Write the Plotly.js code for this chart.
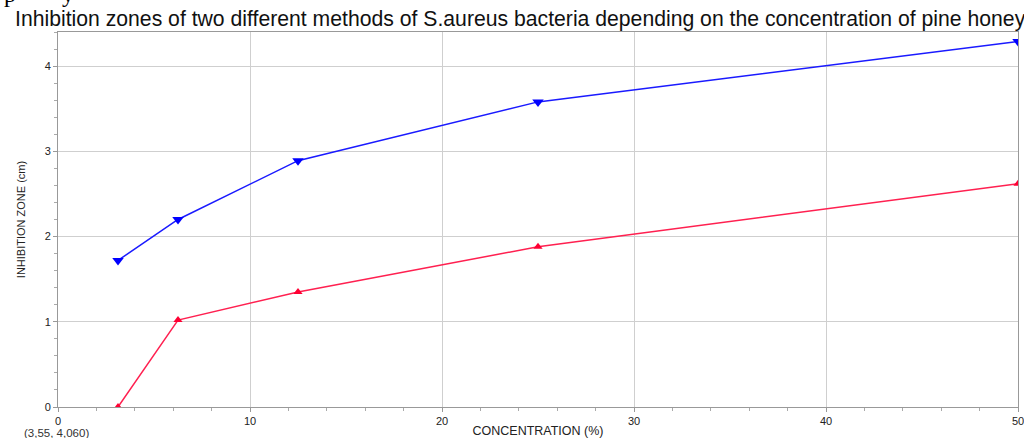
<!DOCTYPE html>
<html><head><meta charset="utf-8">
<script src="https://cdn.plot.ly/plotly-3.0.1.min.js"></script>
<style>html,body{margin:0;padding:0;background:#fff}#c{width:1024px;height:438px}</style>
</head><body><div id="c"></div>
<script>
const concentration = [3.125, 6.25, 12.5, 25, 50];
const methodA = [1.72, 2.20, 2.89, 3.58, 4.29];
const methodB = [0.00, 1.02, 1.35, 1.88, 2.62];
const xTicks = [0, 10, 20, 30, 40, 50];
const yTicks = [0, 1, 2, 3, 4];

const traces = [
  {x: concentration, y: methodA, type: 'scatter', mode: 'lines+markers', name: 'A',
   line: {color: '#1a1aff', width: 1.5}, marker: {symbol: 'triangle-down', size: 10, color: '#0000ff'}},
  {x: concentration, y: methodB, type: 'scatter', mode: 'lines+markers', name: 'B',
   line: {color: '#ff2050', width: 1.5}, marker: {symbol: 'triangle-up', size: 8, color: '#ff0033'}}
];
const layout = {
  width: 1024, height: 438, showlegend: false,
  margin: {l: 58, r: 6, t: 32, b: 31},
  paper_bgcolor: '#fff', plot_bgcolor: '#fff',
  font: {family: 'Liberation Sans, Arial, sans-serif', color: '#333'},
  title: {text: 'Inhibition zones of two different methods of S.aureus bacteria depending on the concentration of pine honey',
    x: 15/1024, xref: 'container', xanchor: 'left', y: 1 - 19/438, yref: 'container', yanchor: 'middle',
    font: {size: 21.2, color: '#111', family: 'Liberation Sans, Arial, sans-serif'}},
  xaxis: {range: [0, 50], tickvals: xTicks, ticks: 'outside', ticklen: 4, tickcolor: '#999',
    showgrid: true, gridcolor: '#cfcfcf', gridwidth: 1, zeroline: false,
    showline: true, linecolor: '#999', mirror: true, ticklabeloverflow: 'allow',
    tickfont: {size: 11, color: '#222'},
    minor: {dtick: 2, ticks: 'outside', ticklen: 3, tickcolor: '#aaa', showgrid: false},
    title: {text: 'CONCENTRATION (%)', font: {size: 12.5, color: '#222'}, standoff: 1}},
  yaxis: {range: [0, 4.4], tickvals: yTicks, ticks: 'outside', ticklen: 4, tickcolor: '#999',
    showgrid: true, gridcolor: '#cfcfcf', gridwidth: 1, zeroline: false,
    showline: true, linecolor: '#999', mirror: true,
    tickfont: {size: 11, color: '#222'},
    minor: {dtick: 0.2, ticks: 'outside', ticklen: 3, tickcolor: '#aaa', showgrid: false},
    title: {text: 'INHIBITION ZONE (cm)', font: {size: 11, color: '#222'}, standoff: 16}},
  annotations: [
    {text: '(3,55, 4,060)', xref: 'paper', yref: 'paper', x: -0.037, y: -0.068, xanchor: 'left', yanchor: 'middle',
     showarrow: false, font: {size: 11.5, color: '#333'}},
    {text: 'p', xref: 'paper', yref: 'paper', x: -0.058, y: 1.062, xanchor: 'left', yanchor: 'bottom',
     showarrow: false, font: {size: 24, color: '#000', family: 'Liberation Serif, serif'}},
    {text: 'y', xref: 'paper', yref: 'paper', x: 0.002, y: 1.062, xanchor: 'left', yanchor: 'bottom',
     showarrow: false, font: {size: 24, color: '#000', family: 'Liberation Serif, serif'}}
  ]
};
Plotly.newPlot('c', traces, layout, {displayModeBar: false, staticPlot: true});
</script></body></html>
